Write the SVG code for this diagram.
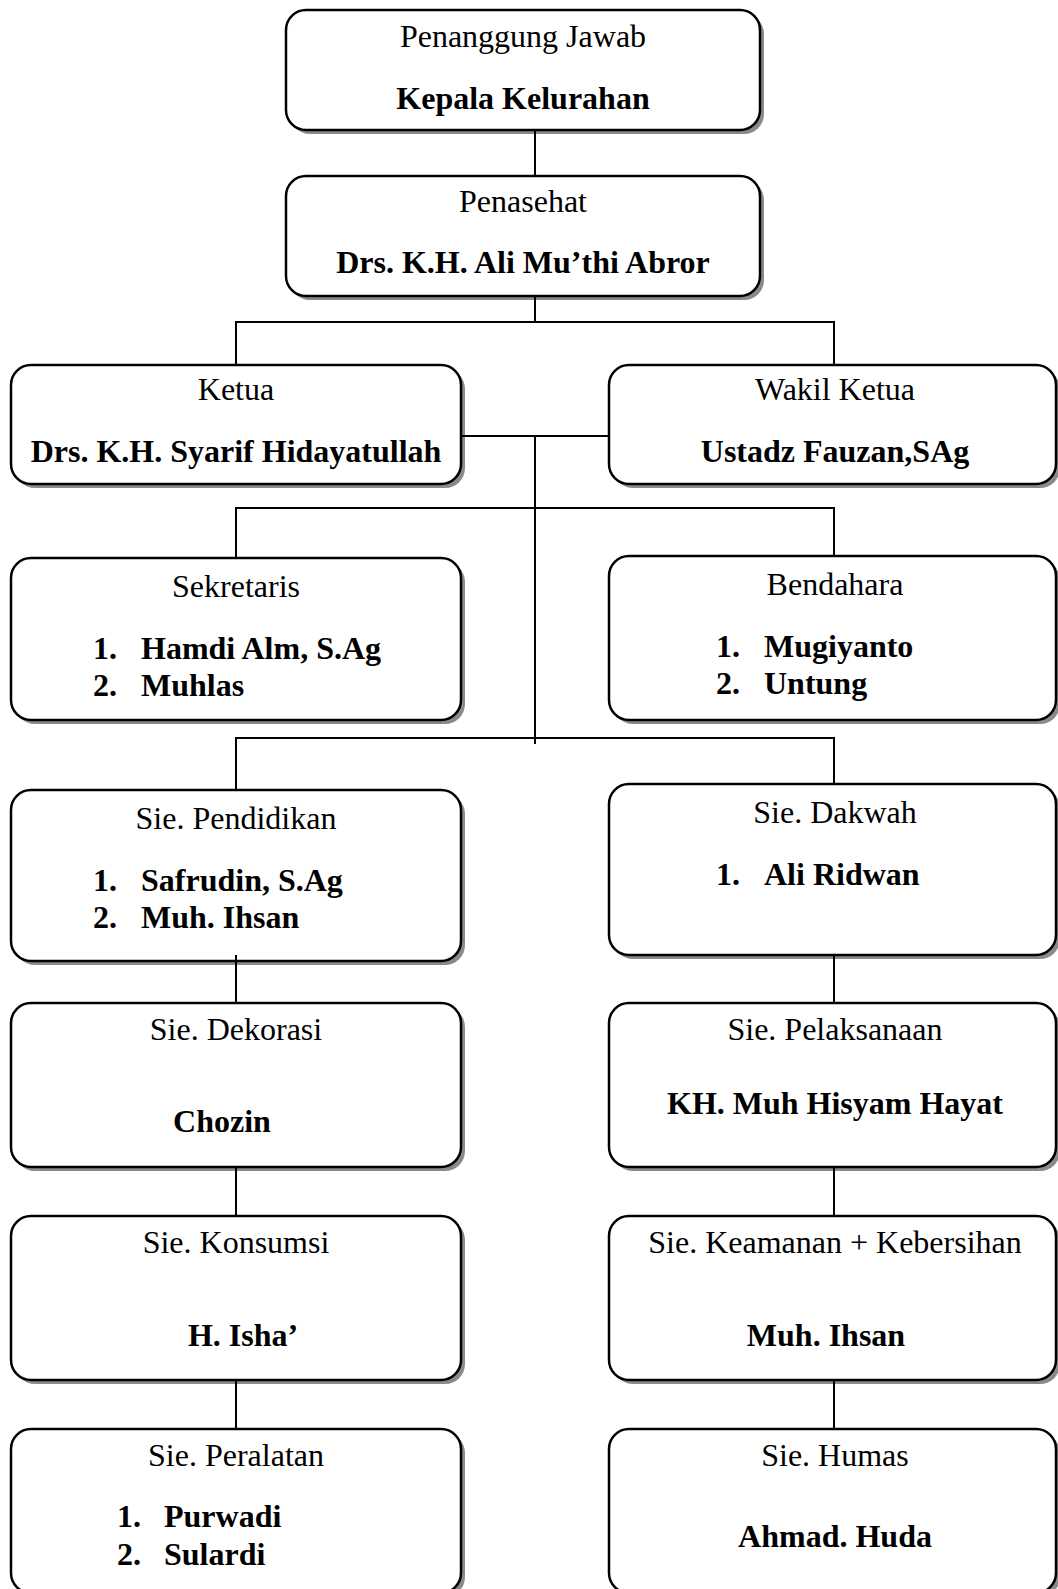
<svg xmlns="http://www.w3.org/2000/svg" width="1058" height="1589" viewBox="0 0 1058 1589">
<style>
.sh{fill:#8a8a8a}
.bx{fill:#fff;stroke:#000;stroke-width:2.5}
.t{font-family:"Liberation Serif","Times New Roman",serif;font-size:32px;fill:#000}
.r{text-anchor:middle}
.b{font-weight:bold}
.c{fill:none;stroke:#000;stroke-width:2}
</style>
<rect width="1058" height="1589" fill="#fff"/>
<g id="penanggung-jawab">
<rect class="sh" x="290" y="14" width="474" height="120" rx="20"/>
<rect class="bx" x="286" y="10" width="474" height="120" rx="20"/>
<text class="t r" x="523" y="47">Penanggung Jawab</text>
<text class="t r b" x="523" y="109">Kepala Kelurahan</text>
</g>
<g id="penasehat">
<rect class="sh" x="290" y="180" width="474" height="120" rx="20"/>
<rect class="bx" x="286" y="176" width="474" height="120" rx="20"/>
<text class="t r" x="523" y="212">Penasehat</text>
<text class="t r b" x="523" y="273">Drs. K.H. Ali Mu’thi Abror</text>
</g>
<g id="ketua">
<rect class="sh" x="15" y="369" width="450" height="119" rx="20"/>
<rect class="bx" x="11" y="365" width="450" height="119" rx="20"/>
<text class="t r" x="236" y="400">Ketua</text>
<text class="t r b" x="236" y="462">Drs. K.H. Syarif Hidayatullah</text>
</g>
<g id="wakil-ketua">
<rect class="sh" x="613" y="369" width="447" height="119" rx="20"/>
<rect class="bx" x="609" y="365" width="447" height="119" rx="20"/>
<text class="t r" x="835" y="400">Wakil Ketua</text>
<text class="t r b" x="835" y="462">Ustadz Fauzan,SAg</text>
</g>
<g id="sekretaris">
<rect class="sh" x="15" y="562" width="450" height="162" rx="20"/>
<rect class="bx" x="11" y="558" width="450" height="162" rx="20"/>
<text class="t r" x="236" y="597">Sekretaris</text>
<text class="t b" x="93" y="659">1.</text>
<text class="t b" x="141" y="659">Hamdi Alm, S.Ag</text>
<text class="t b" x="93" y="696">2.</text>
<text class="t b" x="141" y="696">Muhlas</text>
</g>
<g id="bendahara">
<rect class="sh" x="613" y="560" width="447" height="164" rx="20"/>
<rect class="bx" x="609" y="556" width="447" height="164" rx="20"/>
<text class="t r" x="835" y="595">Bendahara</text>
<text class="t b" x="716" y="657">1.</text>
<text class="t b" x="764" y="657">Mugiyanto</text>
<text class="t b" x="716" y="694">2.</text>
<text class="t b" x="764" y="694">Untung</text>
</g>
<g id="sie-pendidikan">
<rect class="sh" x="15" y="794" width="450" height="171" rx="20"/>
<rect class="bx" x="11" y="790" width="450" height="171" rx="20"/>
<text class="t r" x="236" y="829">Sie. Pendidikan</text>
<text class="t b" x="93" y="891">1.</text>
<text class="t b" x="141" y="891">Safrudin, S.Ag</text>
<text class="t b" x="93" y="928">2.</text>
<text class="t b" x="141" y="928">Muh. Ihsan</text>
</g>
<g id="sie-dakwah">
<rect class="sh" x="613" y="788" width="447" height="171" rx="20"/>
<rect class="bx" x="609" y="784" width="447" height="171" rx="20"/>
<text class="t r" x="835" y="823">Sie. Dakwah</text>
<text class="t b" x="716" y="885">1.</text>
<text class="t b" x="764" y="885">Ali Ridwan</text>
</g>
<g id="sie-dekorasi">
<rect class="sh" x="15" y="1007" width="450" height="164" rx="20"/>
<rect class="bx" x="11" y="1003" width="450" height="164" rx="20"/>
<text class="t r" x="236" y="1040">Sie. Dekorasi</text>
<text class="t r b" x="222" y="1132">Chozin</text>
</g>
<g id="sie-pelaksanaan">
<rect class="sh" x="613" y="1007" width="447" height="164" rx="20"/>
<rect class="bx" x="609" y="1003" width="447" height="164" rx="20"/>
<text class="t r" x="835" y="1040">Sie. Pelaksanaan</text>
<text class="t r b" x="835" y="1114">KH. Muh Hisyam Hayat</text>
</g>
<g id="sie-konsumsi">
<rect class="sh" x="15" y="1220" width="450" height="164" rx="20"/>
<rect class="bx" x="11" y="1216" width="450" height="164" rx="20"/>
<text class="t r" x="236" y="1253">Sie. Konsumsi</text>
<text class="t r b" x="243" y="1346">H. Isha’</text>
</g>
<g id="sie-keamanan-kebersihan">
<rect class="sh" x="613" y="1220" width="447" height="164" rx="20"/>
<rect class="bx" x="609" y="1216" width="447" height="164" rx="20"/>
<text class="t r" x="835" y="1253">Sie. Keamanan + Kebersihan</text>
<text class="t r b" x="826" y="1346">Muh. Ihsan</text>
</g>
<g id="sie-peralatan">
<rect class="sh" x="15" y="1433" width="450" height="164" rx="20"/>
<rect class="bx" x="11" y="1429" width="450" height="164" rx="20"/>
<text class="t r" x="236" y="1466">Sie. Peralatan</text>
<text class="t b" x="117" y="1527">1.</text>
<text class="t b" x="164" y="1527">Purwadi</text>
<text class="t b" x="117" y="1565">2.</text>
<text class="t b" x="164" y="1565">Sulardi</text>
</g>
<g id="sie-humas">
<rect class="sh" x="613" y="1433" width="447" height="164" rx="20"/>
<rect class="bx" x="609" y="1429" width="447" height="164" rx="20"/>
<text class="t r" x="835" y="1466">Sie. Humas</text>
<text class="t r b" x="835" y="1547">Ahmad. Huda</text>
</g>
<g id="connectors">
<path class="c" d="M535 130V176"/>
<path class="c" d="M535 296V322M236 365V322H834V365"/>
<path class="c" d="M461 436H609M535 436V744"/>
<path class="c" d="M236 558V508H834V556"/>
<path class="c" d="M236 790V738H834V784"/>
<path class="c" d="M236 955V1003M834 955V1003"/>
<path class="c" d="M236 1167V1216M834 1167V1216"/>
<path class="c" d="M236 1380V1429M834 1380V1429"/>
</g>
</svg>
